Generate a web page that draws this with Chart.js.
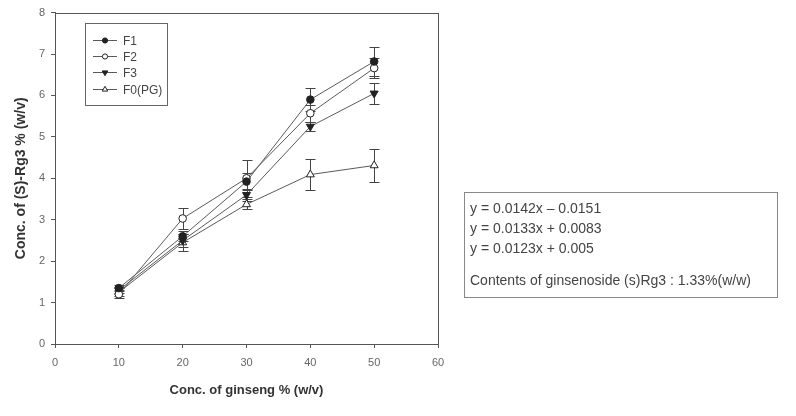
<!DOCTYPE html>
<html><head><meta charset="utf-8">
<script src="https://cdn.jsdelivr.net/npm/chart.js@4/dist/chart.umd.min.js"></script>
<style>
html,body{margin:0;padding:0;background:#fff;}
#wrap{position:absolute;left:0;top:0;width:796px;height:416px;}
#note{position:absolute;left:464px;top:192px;width:314px;height:106px;border:1px solid #888;box-sizing:border-box;
 font-family:"Liberation Sans",Arial,sans-serif;font-size:14px;line-height:16px;color:#444;}
#note div{position:absolute;left:5px;white-space:nowrap;}
</style></head>
<body>
<div id="wrap"><canvas id="c" width="796" height="416"></canvas></div>
<div id="note">
 <div style="top:7px">y = 0.0142x – 0.0151</div>
 <div style="top:27px">y = 0.0133x + 0.0083</div>
 <div style="top:47px">y = 0.0123x + 0.005</div>
 <div style="top:79px">Contents of ginsenoside (s)Rg3 : 1.33%(w/w)</div>
</div>
<script>
const xValues = [10, 20, 30, 40, 50];
const seriesNames = ["F1", "F2", "F3", "F0(PG)"];
const f1 = [1.35, 2.60, 3.92, 5.90, 6.82];
const f2 = [1.20, 3.03, 4.00, 5.57, 6.66];
const f3 = [1.30, 2.50, 3.60, 5.25, 6.05];
const f0 = [1.25, 2.45, 3.37, 4.09, 4.31];
const f1Err = [0.08, 0.12, 0.20, 0.28, 0.35];
const f2Err = [0.10, 0.25, 0.45, 0.20, 0.25];
const f3Err = [0.08, 0.15, 0.15, 0.12, 0.25];
const f0Err = [0.10, 0.20, 0.12, 0.37, 0.40];
const xTicks = [0, 10, 20, 30, 40, 50, 60];
const yTicks = [0, 1, 2, 3, 4, 5, 6, 7, 8];

const FONT = "'Liberation Sans', Arial, sans-serif";
const NARROW = "'Liberation Sans Narrow', 'Liberation Sans', Arial, sans-serif";
const LINE = "#5a5a5a";
const MARK = "#222";

function pts(vals){ return xValues.map((x,i)=>({x:x,y:vals[i]})); }

const styles = [
  {pointStyle:'circle', fill:MARK, rot:0, r:3.8, lr:2.6},
  {pointStyle:'circle', fill:'#fff', rot:0, r:3.8, lr:2.6},
  {pointStyle:'triangle', fill:MARK, rot:180, r:4.6, lr:3.2},
  {pointStyle:'triangle', fill:'#fff', rot:0, r:4.6, lr:3.2}
];
const vals = [f1,f2,f3,f0];
const errs = [f1Err,f2Err,f3Err,f0Err];

const datasets = vals.map((v,i)=>({
  label: seriesNames[i],
  data: pts(v),
  errors: errs[i],
  legendRadius: styles[i].lr,
  borderColor: LINE,
  borderWidth: 1,
  pointStyle: styles[i].pointStyle,
  pointRotation: styles[i].rot,
  pointRadius: styles[i].r,
  pointBackgroundColor: styles[i].fill,
  pointBorderColor: MARK,
  pointBorderWidth: 1,
  fill: false,
  tension: 0
}));

const errorBars = {
  id:'errorBars',
  beforeDatasetsDraw(chart){
    const ctx = chart.ctx, xs = chart.scales.x, ys = chart.scales.y;
    ctx.save();
    ctx.strokeStyle = "#444"; ctx.lineWidth = 1;
    chart.data.datasets.forEach(ds=>{
      ds.data.forEach((p,i)=>{
        const e = ds.errors[i];
        const px = Math.round(xs.getPixelForValue(p.x))+0.5;
        const yt = Math.round(ys.getPixelForValue(p.y+e))+0.5, yb = Math.round(ys.getPixelForValue(p.y-e))+0.5;
        ctx.beginPath();
        ctx.moveTo(px,yt); ctx.lineTo(px,yb);
        ctx.moveTo(px-5,yt); ctx.lineTo(px+5,yt);
        ctx.moveTo(px-5,yb); ctx.lineTo(px+5,yb);
        ctx.stroke();
      });
    });
    ctx.restore();
  }
};

const frameLegend = {
  id:'frameLegend',
  afterDraw(chart){
    const ctx = chart.ctx, a = chart.chartArea;
    ctx.save();
    ctx.strokeStyle = "#555"; ctx.lineWidth = 1;
    ctx.strokeRect(Math.round(a.left)+0.5, Math.round(a.top)+0.5, Math.round(a.right-a.left), Math.round(a.bottom-a.top));
    const lx = 85.5, ly = 23.5, lw = 82, lh = 82;
    ctx.strokeStyle = "#666";
    ctx.strokeRect(lx, ly, lw, lh);
    ctx.font = "12px " + NARROW;
    ctx.textBaseline = "middle";
    chart.data.datasets.forEach((ds,i)=>{
      const y = Math.round(40 + i*16.2)+0.5;
      ctx.strokeStyle = LINE; ctx.lineWidth = 1;
      ctx.beginPath(); ctx.moveTo(93,y); ctx.lineTo(117,y); ctx.stroke();
      ctx.fillStyle = ds.pointBackgroundColor; ctx.strokeStyle = MARK;
      Chart.helpers.drawPoint(ctx, {pointStyle:ds.pointStyle, rotation:ds.pointRotation, radius:ds.legendRadius, borderWidth:1}, 105, y);
      ctx.fillStyle = "#444";
      ctx.fillText(ds.label, 123, y+1);
    });
    ctx.restore();
  }
};

new Chart(document.getElementById('c'), {
  type:'line',
  data:{datasets},
  plugins:[errorBars, frameLegend],
  options:{
    responsive:false,
    animation:false,
    layout:{padding:{left:0,right:358,top:12,bottom:0}},
    plugins:{legend:{display:false}, tooltip:{enabled:false}},
    scales:{
      x:{
        type:'linear', min:0, max:60,
        afterBuildTicks(s){ s.ticks = xTicks.map(v=>({value:v})); },
        afterFit(s){ s.height = 72; },
        grid:{drawOnChartArea:false, drawTicks:true, tickLength:4, color:"#555"},
        border:{color:"#555"},
        ticks:{color:"#666", font:{family:NARROW,size:11}, padding:8, maxRotation:0},
        title:{display:true, text:"Conc. of ginseng % (w/v)", color:"#333", font:{family:FONT,size:13,weight:'bold'}, padding:{top:4,bottom:18}}
      },
      y:{
        type:'linear', min:0, max:8,
        afterBuildTicks(s){ s.ticks = yTicks.map(v=>({value:v})); },
        afterFit(s){ s.width = 55; },
        grid:{drawOnChartArea:false, drawTicks:true, tickLength:4, color:"#555"},
        border:{color:"#555"},
        ticks:{color:"#666", font:{family:NARROW,size:11}, padding:6},
        title:{display:true, text:"Conc. of (S)-Rg3 % (w/v)", color:"#333", font:{family:FONT,size:14,weight:'bold'}, padding:{top:13,bottom:0}}
      }
    }
  }
});
</script>
</body></html>
